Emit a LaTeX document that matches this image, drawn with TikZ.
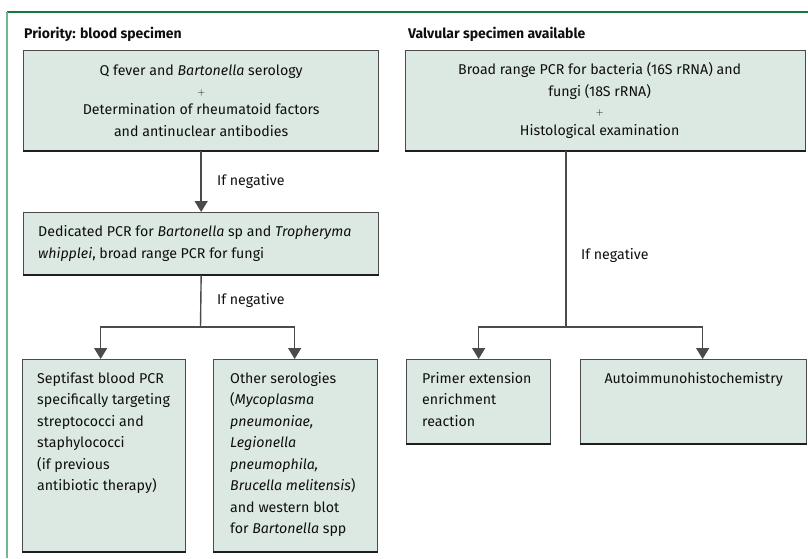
\documentclass[tikz,border=0pt]{standalone}
\usepackage{fontspec}
\setmainfont{Fira Sans}
\usetikzlibrary{arrows.meta}
\definecolor{boxfill}{RGB}{220,232,226}
\definecolor{boxline}{RGB}{75,75,75}
\definecolor{boxshadow}{RGB}{30,30,30}
\definecolor{frametop}{RGB}{20,120,60}
\definecolor{frameleft}{RGB}{110,185,140}
\definecolor{txt}{RGB}{15,15,15}
\tikzset{
  box/.style={draw=boxline, fill=boxfill, line width=1.3pt, rectangle, anchor=north west, inner sep=0pt},
  boxtxt/.style={font=\fontsize{14.2}{21.5}\selectfont, text=txt, inner sep=0pt},
  ttl/.style={font=\fontsize{14}{16}\selectfont\bfseries, text=txt, anchor=west, inner sep=0pt},
  lbl/.style={font=\fontsize{14.2}{16}\selectfont, text=txt, anchor=west, inner sep=0pt},
  conn/.style={draw=boxline, line width=1.4pt},
  arr/.style={conn, -{Triangle[width=13pt,length=11pt]}},
  shad/.style={draw=boxshadow, line width=2pt},
}
\newcommand{\myplus}{{\fontsize{10}{12}\selectfont$+$}}
\begin{document}
\begin{tikzpicture}[x=1pt,y=-1pt]
\useasboundingbox (0,0) rectangle (808,558);
\fill[white] (0,0) rectangle (808,558);
\draw[frametop, line width=1.3pt] (7,12) -- (808,12);
\draw[frameleft, line width=1.5pt] (7,12) -- (7,558);

\node[ttl] (t1) at (24,34) {Priority: blood specimen};
\node[ttl] (t2) at (408,34) {Valvular specimen available};

% boxes
\node[box, minimum width=355pt, minimum height=100pt] (b1) at (23,50) {};
\node[boxtxt, align=center] at (b1.center) {Q fever and \textit{Bartonella} serology\\[-2pt]\myplus\\[-2pt]Determination of rheumatoid factors\\and antinuclear antibodies};

\node[box, minimum width=355pt, minimum height=62pt] (b2) at (23,212) {};
\node[boxtxt, align=left, anchor=west] at ([xshift=15pt]b2.west) {Dedicated PCR for \textit{Bartonella} sp and \textit{Tropheryma}\\\textit{whipplei}, broad range PCR for fungi};

\node[box, minimum width=163pt, minimum height=192pt] (b3) at (22,359) {};
\node[boxtxt, align=left, anchor=north west] at ([xshift=15pt,yshift=-13pt]b3.north west) {Septifast blood PCR\\specifically targeting\\streptococci and\\staphylococci\\(if previous\\antibiotic therapy)};

\node[box, minimum width=164pt, minimum height=192pt] (b4) at (213,359) {};
\node[boxtxt, align=left, anchor=north west] at ([xshift=17pt,yshift=-13pt]b4.north west) {Other serologies\\(\textit{Mycoplasma}\\\textit{pneumoniae,}\\\textit{Legionella}\\\textit{pneumophila,}\\\textit{Brucella melitensis})\\and western blot\\for \textit{Bartonella} spp};

\node[box, minimum width=400pt, minimum height=100pt] (b5) at (405,50) {};
\node[boxtxt, align=center] at ([xshift=-6pt]b5.center) {Broad range PCR for bacteria (16S rRNA) and\\fungi (18S rRNA)\\[-2pt]\myplus\\[-2pt]Histological examination};

\node[box, minimum width=144pt, minimum height=84pt] (b6) at (406,359) {};
\node[boxtxt, align=left, anchor=north west] at ([xshift=16pt,yshift=-13pt]b6.north west) {Primer extension\\enrichment\\reaction};

\node[box, minimum width=226pt, minimum height=84pt] (b7) at (580,359) {};
\node[boxtxt, anchor=north] at ([yshift=-13pt]b7.north) {Autoimmunohistochemistry};

% shadows on bottom edges
\foreach \b in {b1,b2,b3,b4,b5,b6,b7}{
  \draw[shad] (\b.south west) -- (\b.south east);
}

% connectors left
\draw[arr] (b1.south) -- (b2.north);
\node[lbl] (n1) at (217,181) {If negative};
\coordinate (j1) at (200.5,327);
\draw[conn] (b2.south) -- (j1);
\node[lbl] (n2) at (217,300) {If negative};
\draw[arr] (j1) -| ([xshift=-3.5pt]b3.north);
\draw[arr] (j1) -| ([xshift=-1pt]b4.north);

% connectors right
\coordinate (j2) at (566,327);
\draw[conn] (b5.south -| j2) -- (j2);
\node[lbl] (n3) at (581,255) {If negative};
\draw[arr] (j2) -| (b6.north);
\draw[arr] (j2) -| ([xshift=9pt]b7.north);
\end{tikzpicture}
\end{document}
